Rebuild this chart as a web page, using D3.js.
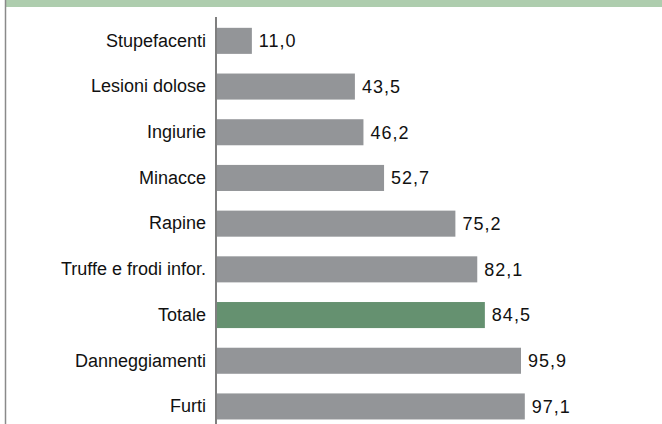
<!DOCTYPE html>
<meta charset="utf-8">
<style>
  body { margin: 0; background: #fff; }
  svg { display: block; font-family: Arial, "Liberation Sans", sans-serif; }
</style>
<svg width="662" height="424"></svg>
<script src="https://d3js.org/d3.v7.min.js"></script>
<script>

var categories = ["Stupefacenti", "Lesioni dolose", "Ingiurie", "Minacce", "Rapine",
                  "Truffe e frodi infor.", "Totale", "Danneggiamenti", "Furti"];
var values = [11.0, 43.5, 46.2, 52.7, 75.2, 82.1, 84.5, 95.9, 97.1];
var highlight = "Totale";

var svg = d3.select("svg");

// green band on top and grey frame line on the left
svg.append("rect")
    .attr("x", 5).attr("y", 0)
    .attr("width", 657).attr("height", 7)
    .attr("fill", "#aecdae");
svg.append("line")
    .attr("x1", 5.5).attr("x2", 5.5)
    .attr("y1", 0).attr("y2", 424)
    .attr("stroke", "#8a8a8a").attr("stroke-width", 1.5);

var x = d3.scaleLinear().domain([0, 100]).range([217, 534]);
var y = d3.scaleBand().domain(categories)
    .range([18, 429.3])
    .paddingInner(0.43)
    .paddingOuter(0.215);

var data = categories.map(function(c, i) { return { name: c, value: values[i] }; });

svg.append("g")
    .selectAll("rect")
    .data(data)
    .enter().append("rect")
    .attr("x", x(0))
    .attr("y", function(d) { return y(d.name); })
    .attr("width", function(d) { return x(d.value) - x(0); })
    .attr("height", y.bandwidth())
    .attr("fill", function(d) { return d.name == highlight ? "#659170" : "#939598"; });

// value labels, italian decimal comma
svg.append("g")
    .selectAll("text")
    .data(data)
    .enter().append("text")
    .attr("x", function(d) { return x(d.value) + 7; })
    .attr("y", function(d) { return y(d.name) + y.bandwidth() / 2; })
    .attr("dy", "0.35em")
    .attr("font-size", 18)
    .attr("letter-spacing", 1)
    .attr("fill", "#111")
    .text(function(d) { return d.value.toFixed(1).replace(".", ","); });

// category axis
var axis = svg.append("g")
    .attr("transform", "translate(216,0)")
    .call(d3.axisLeft(y).tickSize(0).tickPadding(10));
axis.select(".domain").remove();
axis.selectAll("text")
    .attr("font-size", 18)
    .attr("font-family", "Arial, 'Liberation Sans', sans-serif")
    .attr("fill", "#111");

svg.append("line")
    .attr("x1", 216).attr("x2", 216)
    .attr("y1", 17).attr("y2", 424)
    .attr("stroke", "#555").attr("stroke-width", 1.5);

</script>
